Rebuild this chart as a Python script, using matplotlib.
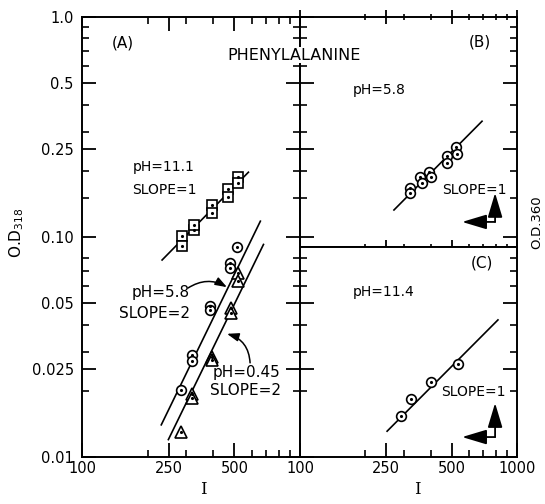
import matplotlib
matplotlib.use('Agg')
import matplotlib.pyplot as plt
from matplotlib.ticker import FixedLocator, FixedFormatter, NullFormatter

# ---- panel A : O.D.318 vs I ----
sq_x = [288, 288, 326, 326, 394, 394, 466, 466, 517, 517]          # pH 11.1
sq_y = [0.101, 0.091, 0.108, 0.113, 0.140, 0.129, 0.165, 0.152, 0.1875, 0.176]
sq_fit_x = [233, 580]
sq_fit_y = [0.0786, 0.197]

circ_x = [285, 320, 320, 386, 386, 476, 476, 512]                   # pH 5.8
circ_y = [0.0202, 0.0291, 0.0273, 0.0488, 0.0468, 0.0762, 0.0724, 0.0901]
circ_fit_x = [231, 658]
circ_fit_y = [0.0140, 0.118]

tri_x = [285, 320, 320, 394, 394, 480, 480, 517, 517]               # pH 0.45
tri_y = [0.0130, 0.0193, 0.0185, 0.0285, 0.0275, 0.0476, 0.0450, 0.0686, 0.0630]
tri_fit_x = [249, 680]
tri_fit_y = [0.0120, 0.0925]

# ---- panel B : pH 5.8, O.D.360 ----
b_x = [321, 321, 357, 364, 393, 402, 476, 476, 523, 528]
b_y = [0.167, 0.158, 0.187, 0.176, 0.197, 0.187, 0.233, 0.217, 0.256, 0.238]
b_fit_x = [271, 690]
b_fit_y = [0.1327, 0.336]

# ---- panel C : pH 11.4, O.D.360 ----
c_x = [292, 325, 401, 535]
c_y = [0.01536, 0.01835, 0.0219, 0.02647]
c_fit_x = [252, 817]
c_fit_y = [0.0131, 0.0420]

y_major = [0.01, 0.025, 0.05, 0.1, 0.25, 0.5, 1.0]
y_major_lbl = ['0.01', '0.025', '0.05', '0.10', '0.25', '0.5', '1.0']
y_minor = [0.02, 0.03, 0.04, 0.06, 0.07, 0.08, 0.15, 0.2, 0.3, 0.4, 0.6, 0.7, 0.8, 0.9]
x_minor = [200, 300, 400, 600, 700, 800, 900]

W, H = 545, 504
split = 0.0901


def rect(l, t, r, b):
    return [l / W, 1 - b / H, (r - l) / W, (b - t) / H]


fig = plt.figure(figsize=(5.45, 5.04), dpi=100)
axA = fig.add_axes(rect(82, 17, 300, 457))
axB = fig.add_axes(rect(300, 17, 517, 247))
axC = fig.add_axes(rect(300, 247, 517, 457))

for ax in (axA, axB, axC):
    ax.set_xscale('log')
    ax.set_yscale('log')
    ax.set_xlim(100, 1000)
    ax.xaxis.set_major_locator(FixedLocator([100, 250, 500, 1000]))
    ax.xaxis.set_minor_locator(FixedLocator(x_minor))
    ax.yaxis.set_major_locator(FixedLocator(y_major))
    ax.yaxis.set_minor_locator(FixedLocator(y_minor))
    ax.xaxis.set_minor_formatter(NullFormatter())
    ax.yaxis.set_minor_formatter(NullFormatter())
    ax.xaxis.set_major_formatter(NullFormatter())
    ax.yaxis.set_major_formatter(NullFormatter())
    for s in ax.spines.values():
        s.set_linewidth(1.4)
    ax.tick_params(which='major', direction='in', length=10, width=1.3,
                   top=True, right=True, labelsize=10.5, pad=3)
    ax.tick_params(which='minor', direction='in', length=5, width=1.2,
                   top=True, right=True)

axA.set_ylim(0.01, 1.0)
axB.set_ylim(split, 1.0)
axC.set_ylim(0.01, split)

axA.xaxis.set_major_locator(FixedLocator([100, 250, 500]))
axA.xaxis.set_major_formatter(FixedFormatter(['100', '250', '500']))
axA.yaxis.set_major_formatter(FixedFormatter(y_major_lbl))
axA.tick_params(axis='y', which='major', pad=6)
axC.xaxis.set_major_formatter(FixedFormatter(['100', '250', '500', '1000']))
axC.tick_params(axis='x', which='both', top=False)
axB.tick_params(axis='x', which='both', bottom=True, direction='inout')


def dotted(ax, x, y, m, ms):
    ax.plot(x, y, ls='none', marker=m, ms=ms, mfc='white', mec='k', mew=1.2, zorder=3)
    ax.plot(x, y, ls='none', marker='.', ms=2.5, color='k', zorder=4)


lw = 1.2
axA.plot(sq_fit_x, sq_fit_y, color='k', lw=lw)
axA.plot(circ_fit_x, circ_fit_y, color='k', lw=lw)
axA.plot(tri_fit_x, tri_fit_y, color='k', lw=lw)
dotted(axA, sq_x, sq_y, 's', 7)
dotted(axA, circ_x, circ_y, 'o', 7)
dotted(axA, tri_x, tri_y, '^', 8)

axB.plot(b_fit_x, b_fit_y, color='k', lw=lw)
dotted(axB, b_x, b_y, 'o', 7)
axC.plot(c_fit_x, c_fit_y, color='k', lw=lw)
dotted(axC, c_x, c_y, 'o', 7)

fs = 11
fs2 = 10
axA.text(0.188, 0.941, '(A)', transform=axA.transAxes, ha='center', va='center', fontsize=fs)
axA.text(0.234, 0.659, 'pH=11.1', transform=axA.transAxes, ha='left', va='center', fontsize=fs2)
axA.text(0.232, 0.607, 'SLOPE=1', transform=axA.transAxes, ha='left', va='center', fontsize=fs2)
axA.text(0.229, 0.373, 'pH=5.8', transform=axA.transAxes, ha='left', va='center', fontsize=fs)
axA.text(0.170, 0.327, 'SLOPE=2', transform=axA.transAxes, ha='left', va='center', fontsize=fs)
axA.text(0.601, 0.193, 'pH=0.45', transform=axA.transAxes, ha='left', va='center', fontsize=fs)
axA.text(0.587, 0.152, 'SLOPE=2', transform=axA.transAxes, ha='left', va='center', fontsize=fs)

curly = dict(arrowstyle='-|>,head_length=0.7,head_width=0.25', color='k', lw=1.1,
             shrinkA=0, shrinkB=0)
axA.annotate('', xy=(0.665, 0.386), xytext=(0.486, 0.384), xycoords='axes fraction',
             arrowprops=dict(curly, connectionstyle='arc3,rad=-0.3'))
axA.annotate('', xy=(0.665, 0.280), xytext=(0.771, 0.214), xycoords='axes fraction',
             arrowprops=dict(curly, connectionstyle='arc3,rad=0.35'))

axB.text(0.829, 0.891, '(B)', transform=axB.transAxes, ha='center', va='center', fontsize=fs)
axB.text(0.244, 0.683, 'pH=5.8', transform=axB.transAxes, ha='left', va='center', fontsize=fs2)
axB.text(0.654, 0.248, 'SLOPE=1', transform=axB.transAxes, ha='left', va='center', fontsize=fs2)
axC.text(0.839, 0.924, '(C)', transform=axC.transAxes, ha='center', va='center', fontsize=fs)
axC.text(0.244, 0.786, 'pH=11.4', transform=axC.transAxes, ha='left', va='center', fontsize=fs2)
axC.text(0.650, 0.310, 'SLOPE=1', transform=axC.transAxes, ha='left', va='center', fontsize=fs2)

big = dict(arrowstyle='-|>,head_length=1.5,head_width=0.45', color='k', lw=1.3,
           shrinkA=0, shrinkB=0)
axB.annotate('', xy=(0.899, 0.235), xytext=(0.899, 0.109), xycoords='axes fraction', arrowprops=big)
axB.annotate('', xy=(0.747, 0.109), xytext=(0.899, 0.109), xycoords='axes fraction', arrowprops=big)
axC.annotate('', xy=(0.899, 0.257), xytext=(0.899, 0.095), xycoords='axes fraction', arrowprops=big)
axC.annotate('', xy=(0.747, 0.095), xytext=(0.899, 0.095), xycoords='axes fraction', arrowprops=big)

fig.text(294 / W, 1 - 55 / H, 'PHENYLALANINE', ha='center', va='center', fontsize=11.5,
         zorder=10, bbox=dict(facecolor='white', edgecolor='none', pad=0.5))
fig.text(17 / W, 1 - 233 / H, r'O.D$_{318}$', rotation=90, ha='center', va='center', fontsize=fs)
fig.text(537 / W, 1 - 222 / H, 'O.D.360', rotation=90, ha='center', va='center', fontsize=9.5)
fig.text(203 / W, 1 - 490 / H, 'I', ha='center', va='center', fontsize=12, family='DejaVu Serif')
fig.text(417 / W, 1 - 490 / H, 'I', ha='center', va='center', fontsize=12, family='DejaVu Serif')

fig.savefig('out.png', dpi=100)
